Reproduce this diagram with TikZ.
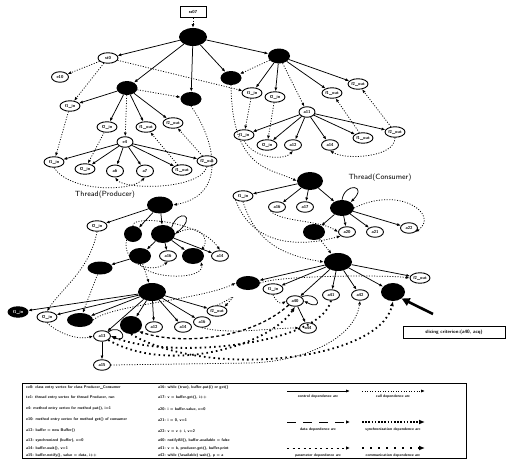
\documentclass[tikz,border=0pt]{standalone}
\usetikzlibrary{shapes.geometric,arrows.meta}
\begin{document}
\begin{tikzpicture}[x=1pt,y=-1pt,
 lbl/.style={font=\fontsize{4.3}{4.3}\selectfont\sffamily\bfseries},
 wn/.style={ellipse,draw,line width=0.9pt,fill=white,inner sep=0.2pt,minimum width=20pt,minimum height=10.5pt,lbl},
 bn/.style={ellipse,fill=black,inner sep=0pt,minimum width=21pt,minimum height=14pt},
 bb/.style={bn,minimum width=28pt,minimum height=18pt},
 ar/.style={-{Latex[length=3.8pt,width=3pt]},line width=0.75pt},
 ctl/.style={ar},
 dep/.style={ar,dash pattern=on 1pt off 1.6pt},
 syn/.style={-{Latex[length=5pt,width=4pt]},line width=1.8pt,dash pattern=on 1.6pt off 3.2pt},
 dat/.style={-{Latex[length=4pt,width=3.5pt]},line width=1.3pt,dash pattern=on 3pt off 2.5pt},
 thr/.style={font=\fontsize{7.5}{8}\selectfont\sffamily},
 leg/.style={font=\fontsize{3.9}{4}\selectfont\sffamily\bfseries,anchor=west,inner sep=0pt},
 legc/.style={font=\fontsize{3.8}{4}\selectfont\sffamily\bfseries,inner sep=0pt}]
\useasboundingbox (0,0) rectangle (507,463);

% ---------------- class part ----------------
\node[draw,line width=0.9pt,minimum width=26pt,minimum height=11pt,inner sep=1pt,lbl] (root) at (193,12) {ss07};
\node[bb] (ce0) at (193,37) {};
\node[wn] (p10) at (108,58) {st0};
\node[wn,minimum width=17pt] (e10) at (60,77) {e10};
\node[bn] (pb1) at (127,88) {};
\node[bn] (pb2) at (191,99) {};
\node[bn] (pb3) at (231,78) {};
\node[bn,minimum width=22pt,minimum height=15pt] (cb) at (279,56) {};
\node[wn] (pf1) at (70,106) {f1\_in};
\node[wn] (pf2) at (107,127) {f2\_in};
\node[wn] (pf3) at (146,127) {f1\_out};
\node[wn] (pf4) at (173,123) {f2\_out};
\node[wn,minimum width=16pt] (pa) at (125,142) {e4};
\node[wn] (pc1) at (54,162) {f1\_in};
\node[wn] (pc2) at (85,169) {f2\_in};
\node[wn,minimum width=17pt,minimum height=12pt] (pc3) at (115,171) {a6};
\node[wn,minimum width=17pt,minimum height=12pt] (pc4) at (145,171) {a7};
\node[wn] (pc5) at (182,170) {f1\_out};
\node[wn] (pc6) at (207,161) {f2\_out};

\node[wn] (cf1) at (252,93) {f1\_in};
\node[wn] (cf2) at (275,97) {f2\_in};
\node[wn] (cf3) at (332,93) {f1\_out};
\node[wn] (cf4) at (358,84) {f2\_out};
\node[wn,minimum width=16pt] (ca) at (307,112) {a11};
\node[wn] (cc1) at (244,135) {f1\_in};
\node[wn] (cc2) at (267,145) {f2\_in};
\node[wn,minimum width=17pt] (cc3) at (293,145) {a12};
\node[wn,minimum width=17pt] (cc4) at (330,145) {a14};
\node[wn] (cc5) at (363,138) {f1\_out};
\node[wn] (cc6) at (395,132) {f2\_out};

\draw[dep] (root) -- (ce0);
\foreach \t in {p10,pb1,pb2,pb3,cb} \draw[ctl] (ce0) -- (\t);
\draw[dep] (p10) -- (e10);
\draw[dep] (p10) -- (pf1);
\draw[dep] (p10) -- (cf1);
\foreach \t in {pf1,pf2,pf3,pf4} \draw[ctl] (pb1) -- (\t);
\draw[dep] (pb1) -- (pb2);
\draw[dep] (pb1) -- (pa);
\foreach \t in {cf1,cf2,cf3,cf4} \draw[ctl] (cb) -- (\t);
\draw[dep] (cb) -- (ca);
\draw[dep] (cb) -- (pb3);
\foreach \t in {pc1,pc2,pc3,pc4,pc5,pc6} \draw[ctl] (pa) -- (\t);
\foreach \t in {cc1,cc2,cc3,cc4,cc5,cc6} \draw[ctl] (ca) -- (\t);
\draw[dep] (pf1) -- (pc1);
\draw[dep] (pf2) -- (pc2);
\draw[dep] (pc5) -- (pf3);
\draw[dep] (pc6) -- (pf4);
\draw[dep] (pc1.south) .. controls (70,192) and (130,192) .. (pc4.south);
\draw[dep] (pc6.south) .. controls (200,190) and (125,190) .. (pc3.south);
\draw[dep] (cf1) -- (cc1);
\draw[dep] (cf2) -- (cc2);
\draw[dep] (cc5) -- (cf3);
\draw[dep] (cc6) -- (cf4);
\draw[dep] (cc1.south) .. controls (255,160) and (285,160) .. (cc3.south);
\draw[dep] (cc6.south) .. controls (395,158) and (345,160) .. (cc4.south);

% ---------------- thread labels ----------------
\node[thr] (tp) at (105,195) {Thread(Producer)};
\node[thr] (tcl) at (380,178) {Thread(Consumer)};

% ---------------- producer thread ----------------
\node[bb,minimum width=26pt,minimum height=17pt] (te) at (160,205) {};
\node[wn] (tf) at (97,226) {f2\_in};
\node[bn,minimum width=18pt,minimum height=16pt] (tb1) at (133,234) {};
\node[bn,minimum width=24pt,minimum height=18pt] (tb2) at (163,234) {};
\node[bn,minimum width=22pt,minimum height=16pt] (tb3) at (140,256) {};
\node[wn,minimum width=17pt] (ta16) at (168,256) {a16};
\node[bn,minimum width=22pt,minimum height=16pt] (tb4) at (193,256) {};
\node[wn,minimum width=17pt] (ta14) at (220,256) {a14};
\node[bn,minimum width=25pt,minimum height=13pt] (tb5) at (100,268) {};
\node[bb] (tm) at (152,292) {};
\node[wn,fill=black,text=white] (m1) at (18,312) {f1\_in};
\node[wn] (m2) at (47,317) {f2\_in};
\node[bn,minimum width=26pt,minimum height=14pt] (m3) at (80,320) {};
\node[bn,minimum width=22pt,minimum height=18pt] (m4) at (131,325) {};
\node[wn,minimum width=17pt] (m5) at (154,327) {a12};
\node[wn,minimum width=17pt] (m6) at (183,327) {a14};
\node[wn,minimum width=17pt] (m7) at (202,322) {a16};
\node[wn] (m8) at (217,311) {f2\_out};
\node[wn,minimum width=17pt] (m9) at (102,336) {a13};
\node[wn,minimum width=17pt] (m10) at (102,365) {a15};

\draw[dep] (pb2.south) .. controls (215,140) and (228,195) .. (te.east);
\foreach \t in {tf,tb1,tb2} \draw[ctl] (te) -- (\t);
\draw[ctl] (tb2.north east) .. controls (178,208) and (198,215) .. (tb2.east);
\foreach \t in {tb3,ta16,tb4,ta14} \draw[ctl] (tb2) -- (\t);
\draw[ctl] (tb3) -- (tb5);
\draw[dep] (tb3) -- (tm);
\draw[dep] (tb1.south west) .. controls (122,262) and (150,275) .. (ta16.south);
\draw[dep] (tb3.south) .. controls (150,280) and (205,280) .. (tb4.south east);
\draw[dep] (tb2.east) .. controls (200,220) and (210,240) .. (tb4.north east);
\draw[dep] (tb1.north) .. controls (130,215) and (200,220) .. (ta14.north);
\draw[dep] (tf.south) .. controls (90,270) and (60,290) .. (m2.north);
\draw[dep] (tb5) -- (m3);
\foreach \t in {m1,m2,m3,m4,m5,m6,m7,m8,m9} \draw[ctl] (tm) -- (\t);
\draw[ctl] (m9) -- (m10);
\draw[ctl] (m9.north east) .. controls (122,322) and (130,345) .. (m9.east);
\draw[dep] (m2.south) .. controls (60,335) and (80,340) .. (m9.west);
\draw[dep] (m8.north) .. controls (230,300) and (240,290) .. (m8.north east);

% ---------------- consumer thread ----------------
\node[bb,minimum width=26pt] (tc) at (310,181) {};
\node[wn] (cf) at (243,196) {f1\_in};
\node[wn,minimum width=17pt] (c16) at (277,207) {a16};
\node[wn,minimum width=17pt] (c17) at (305,207) {a17};
\node[bn,minimum width=24pt,minimum height=16pt] (cs) at (342,208) {};
\node[bn,minimum width=22pt,minimum height=16pt] (cb1) at (314,232) {};
\node[wn,minimum width=17pt] (c20) at (347,232) {a20};
\node[wn,minimum width=17pt] (c21) at (375,232) {a21};
\node[wn,minimum width=17pt] (c22) at (409,228) {a22};
\node[bb] (cm) at (338,262) {};
\node[bn,minimum width=24pt,minimum height=14pt] (n1) at (248,283) {};
\node[wn] (n2) at (273,289) {f1\_in};
\node[wn,minimum width=17pt] (n3) at (295,301) {a40};
\node[wn,minimum width=17pt] (n4) at (331,295) {a41};
\node[wn,minimum width=17pt] (n5) at (360,295) {a42};
\node[bn,minimum width=24pt,minimum height=18pt] (n6) at (393,292) {};
\node[wn] (n7) at (420,278) {f2\_out};
\node[wn,minimum width=17pt] (n8) at (308,328) {a44};

\draw[dep] (pb3.south) .. controls (232,170) and (270,168) .. (tc.west);
\foreach \t in {cf,c16,c17,cs} \draw[ctl] (tc) -- (\t);
\draw[ctl] (cs.north) .. controls (345,182) and (368,185) .. (cs.north east);
\foreach \t in {cb1,c20,c21,c22} \draw[ctl] (cs) -- (\t);
\draw[dep] (cs.east) .. controls (400,185) and (440,215) .. (c22.south east);
\draw[dep] (c16.south west) .. controls (280,222) and (320,220) .. (c20.west);
\draw[dep] (cf.south) .. controls (255,240) and (280,255) .. (cm.west);
\draw[dep] (cb1) -- (cm);
\draw[dep] (cf.south west) .. controls (250,240) and (290,250) .. (c20.south west);
\foreach \t in {n1,n2,n3,n4,n5,n6,n7} \draw[ctl] (cm) -- (\t);
\draw[ctl] (n3) -- (n8);
\draw[ctl] (n3.north east) .. controls (318,290) and (325,312) .. (n3.east);
\draw[dep] (n2.south) .. controls (275,300) and (280,305) .. (n3.west);
\draw[dep] (n1.east) .. controls (280,275) and (390,275) .. (n7.west);

% ---------------- inter-thread ----------------
\draw[syn] (m9.south east) .. controls (170,375) and (270,345) .. (n3.south);
\draw[syn] (n4.south) .. controls (320,345) and (170,360) .. (m9.east);
\draw[syn] (m4.south) .. controls (210,380) and (380,360) .. (n6.south);
\draw[dat] (n3.south west) .. controls (250,340) and (180,345) .. (m4.south east);
\draw[dep] (m10.east) -- (250,363) .. controls (300,362) and (355,340) .. (n5.south);
\draw[dep] (m7.south) .. controls (230,335) and (270,328) .. (n8.west);
\draw[dep] (m3.east) .. controls (110,305) and (200,300) .. (n1.west);

% ---------------- slicing criterion ----------------
\node[draw,line width=1pt,minimum width=102pt,minimum height=12pt,inner sep=1pt,font=\fontsize{4.8}{5}\selectfont\sffamily\bfseries] (sc) at (454,332) {slicing criterion:(a40, acq)};
\coordinate (ba) at (433,314);
\draw[-{Triangle[length=8pt,width=8pt]},line width=2.6pt] (ba) -- (n6.south east);

% ---------------- legend ----------------
\node[draw,line width=1pt,minimum width=444pt,minimum height=75pt,inner sep=0pt] (lg) at (244,420.5) {};
\node[leg] (l1) at (26,388) {ce0: class entry vertex for class Producer\_Consumer};
\node[leg] (l2) at (26,398) {te1: thread entry vertex for thread Producer, run};
\node[leg] (l3) at (26,409) {e4: method entry vertex for method put(), i=1};
\node[leg] (l4) at (26,420) {e10: method entry vertex for method get() of consumer};
\node[leg] (l5) at (26,431) {a12: buffer = new Buffer()};
\node[leg] (l6) at (26,441) {a13: synchronized (buffer), v=0};
\node[leg] (l7) at (26,449) {a14: buffer.wait(), v=1};
\node[leg] (l8) at (26,456) {a15: buffer.notify(), value = data, i++};
\node[leg] (r1) at (158,388) {a16: while (true), buffer.put(i) or get()};
\node[leg] (r2) at (158,398) {a17: v = buffer.get(), i++};
\node[leg] (r3) at (158,409) {a20: i = buffer.value, v=0};
\node[leg] (r4) at (158,420) {a21: i = 0, v=1};
\node[leg] (r5) at (158,431) {a22: v = v + i, v=2};
\node[leg] (r6) at (158,441) {a40: notifyAll(), buffer.available = false};
\node[leg] (r7) at (158,449) {a41: v = b, producer.get(), buffer.print};
\node[leg] (r8) at (158,456) {a42: while (!available) wait(), p = a};
\coordinate (s1) at (287,391); \coordinate (e1) at (350,391);
\coordinate (s2) at (362,391); \coordinate (e2) at (425,391);
\coordinate (s3) at (287,422); \coordinate (e3) at (350,422);
\coordinate (s4) at (362,422); \coordinate (e4) at (425,422);
\coordinate (s5) at (287,448); \coordinate (e5) at (350,448);
\coordinate (s6) at (362,448); \coordinate (e6) at (425,448);
\draw[ctl] (s1) -- (e1);
\draw[dep] (s2) -- (e2);
\draw[-{Latex[length=4pt,width=3.5pt]},line width=0.9pt,dash pattern=on 9pt off 7pt] (s3) -- (e3);
\draw[-{Latex[length=6pt,width=5pt]},line width=1.8pt,dash pattern=on 1.6pt off 1.6pt] (s4) -- (e4);
\draw[-{Latex[length=4pt,width=3.5pt]},line width=0.9pt,dash pattern=on 2pt off 3.5pt] (s5) -- (e5);
\draw[-{Latex[length=6pt,width=5pt]},line width=1.8pt,dash pattern=on 2pt off 6pt] (s6) -- (e6);
\node[legc] (t1) at (318,397) {control dependence arc};
\node[legc] (t2) at (393,397) {call dependence arc};
\node[legc] (t3) at (318,430) {data dependence arc};
\node[legc] (t4) at (393,430) {synchronization dependence arc};
\node[legc] (t5) at (318,456) {parameter dependence arc};
\node[legc] (t6) at (393,456) {communication dependence arc};
\end{tikzpicture}
\end{document}
